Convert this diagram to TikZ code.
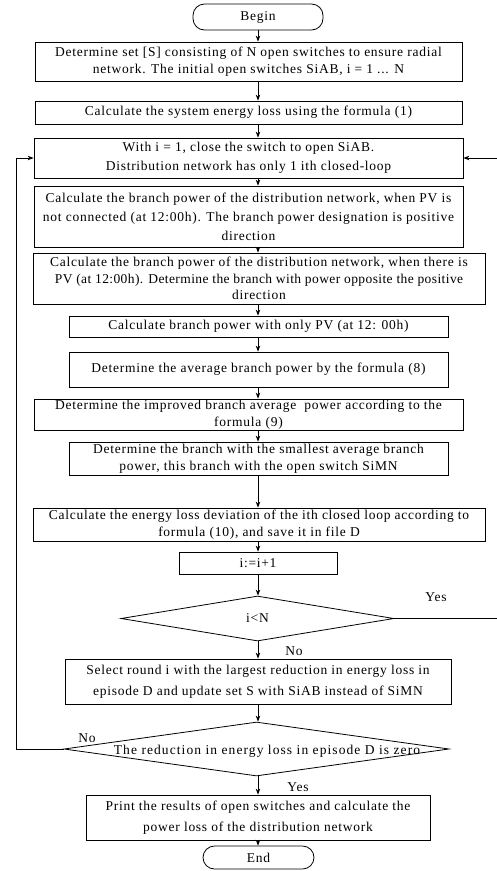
\documentclass[tikz,border=0pt]{standalone}
\usepackage{fontspec}
\setmainfont{Liberation Serif}[LetterSpace=5.5]
\usetikzlibrary{shapes.geometric,arrows.meta}
\begin{document}
\begin{tikzpicture}[x=1pt,y=-1pt,
  every node/.style={font=\fontsize{13.5}{16.5}\selectfont},
  box/.style={draw,line width=0.8pt,inner sep=0pt,align=center,rectangle},
  term/.style={draw,line width=0.8pt,rounded corners=11.5pt,inner sep=0pt,rectangle},
  dec/.style={draw,diamond,line width=0.8pt,inner sep=0pt},
  arr/.style={-{Stealth[length=6pt,width=4.5pt]},line width=0.8pt},
  lbl/.style={inner sep=0pt}]
\useasboundingbox (0,0) rectangle (496,871);

\node[term,minimum width=130pt,minimum height=26pt] (Begin) at (258,17) {Begin};
\node[box,minimum width=427pt,minimum height=39pt] (B1) at (248.5,61.5)
  {Determine set [S] consisting of N open switches to ensure radial\\network. The initial open switches SiAB, i = 1 ... N};
\node[box,minimum width=427pt,minimum height=23pt] (B2) at (248.5,112.5)
  {Calculate the system energy loss using the formula (1)};
\node[box,minimum width=429pt,minimum height=40pt,font=\fontsize{13.5}{19}\selectfont] (B3) at (248.5,158)
  {With i = 1, close the switch to open SiAB.\\Distribution network has only 1 ith closed-loop};
\node[box,minimum width=429pt,minimum height=61pt,font=\fontsize{13.5}{19}\selectfont] (B4) at (248.5,216.5)
  {Calculate the branch power of the distribution network, when PV is\\not connected (at 12:00h). The branch power designation is positive\\direction};
\node[box,minimum width=452pt,minimum height=51pt] (B5) at (259,278.5)
  {Calculate the branch power of the distribution network, when there is\\{\addfontfeature{LetterSpace=3}PV (at 12:00h). Determine the branch with power opposite the positive}\\direction};
\node[box,minimum width=379pt,minimum height=21pt] (B6) at (258.5,326.5)
  {Calculate branch power with only PV (at 12: 00h)};
\node[box,minimum width=379pt,minimum height=35pt] (B7) at (258.5,369.5)
  {Determine the average branch power by the formula (8)};
\node[box,minimum width=429pt,minimum height=31pt] (B8) at (248.5,414.5)
  {Determine the improved branch average\ \ power according to the\\formula (9)};
\node[box,minimum width=379pt,minimum height=33pt] (B9) at (258.5,458.5)
  {Determine the branch with the smallest average branch\\power, this branch with the open switch SiMN};
\node[box,minimum width=452pt,minimum height=33pt] (B10) at (259,524.5)
  {Calculate the energy loss deviation of the ith closed loop according to\\formula (10), and save it in file D};
\node[box,minimum width=158pt,minimum height=22pt] (B11) at (258,563) {i:=i+1};
\node[dec,minimum width=273pt,minimum height=45pt] (D1) at (257.5,618.5) {i<N};
\node[box,minimum width=386pt,minimum height=45pt,font=\fontsize{13.5}{21}\selectfont] (B12) at (258,681.5)
  {Select round i with the largest reduction in energy loss in\\episode D and update set S with SiAB instead of SiMN};
\node[dec,minimum width=385pt,minimum height=54pt] (D2) at (256.5,749) {};
\node[lbl] (D2t) at (267,751) {\addfontfeature{LetterSpace=8}The reduction in energy loss in episode D is zero};
\node[box,minimum width=344pt,minimum height=45pt,font=\fontsize{13.5}{21}\selectfont] (B13) at (258,817.5)
  {Print the results of open switches and calculate the\\power loss of the distribution network};
\node[term,minimum width=111pt,minimum height=23pt] (End) at (258.5,857.5) {End};

\node[lbl] (Y1) at (436,597) {Yes};
\node[lbl] (N1) at (294,651) {No};
\node[lbl] (N2) at (87,738) {No};
\node[lbl] (Y2) at (298,787) {Yes};

\coordinate (cx) at (258,0);
\draw[arr] (Begin.south -| cx) -- (B1.north -| cx);
\draw[arr] (B1.south -| cx) -- (B2.north -| cx);
\draw[arr] (B2.south -| cx) -- (B3.north -| cx);
\draw[arr] (B3.south -| cx) -- (B4.north -| cx);
\draw[arr] (B4.south -| cx) -- (B5.north -| cx);
\draw[arr] (B5.south -| cx) -- (B6.north -| cx);
\draw[arr] (B6.south -| cx) -- (B7.north -| cx);
\draw[arr] (B7.south -| cx) -- (B8.north -| cx);
\draw[arr] (B8.south -| cx) -- (B9.north -| cx);
\draw[arr] (B9.south -| cx) -- (B10.north -| cx);
\draw[arr] (B10.south -| cx) -- (B11.north -| cx);
\draw[arr] (B11.south -| cx) -- (D1.north -| cx);
\draw[arr] (D1.south -| cx) -- (B12.north -| cx);
\draw[arr] (B12.south -| cx) -- (D2.north -| cx);
\draw[arr] (D2.south -| cx) -- (B13.north -| cx);
\draw[arr] (B13.south -| cx) -- (End.north -| cx);

\coordinate (R) at (497,618.5);
\coordinate (L) at (16,749);
\draw[arr] (D1.east) -- (R) |- (B3.east);
\draw[arr] (D2.west) -- (L) |- (B3.west);
\end{tikzpicture}
\end{document}
